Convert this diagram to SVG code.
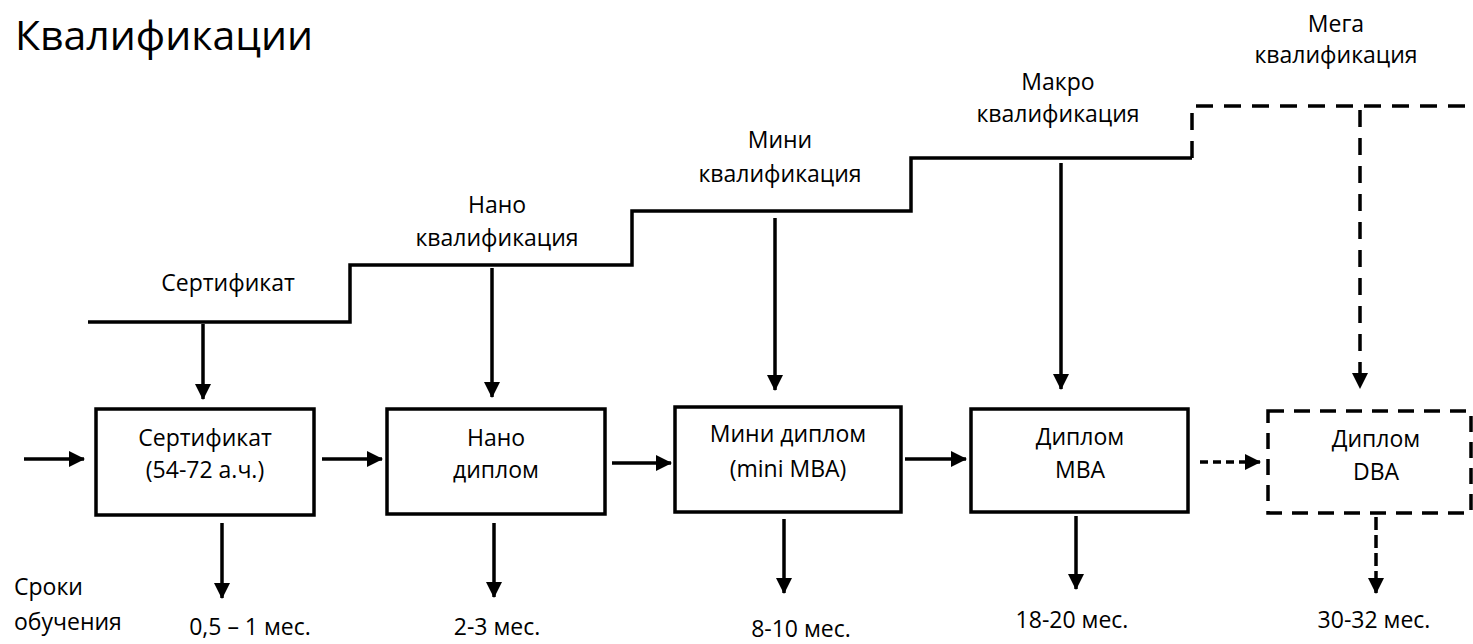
<svg xmlns="http://www.w3.org/2000/svg" width="1473" height="644" viewBox="0 0 1473 644">
<defs>
<style>
.t{font-family:"Open Sans","Noto Sans","DejaVu Sans",sans-serif;font-size:23px;fill:#000;text-anchor:middle}
.ln{fill:none;stroke:#000;stroke-width:3.5}
.dl{fill:none;stroke:#000;stroke-width:3.5;stroke-dasharray:17 11}
.box{fill:#fff;stroke:#000;stroke-width:3.5}
.dbox{fill:#fff;stroke:#000;stroke-width:3.5;stroke-dasharray:16 10}
.ar{fill:none;stroke:#000;stroke-width:3.5;marker-end:url(#ah)}
</style>
<marker id="ah" markerUnits="userSpaceOnUse" markerWidth="16" markerHeight="16" viewBox="0 0 16 16" refX="15" refY="8" orient="auto">
<path d="M0,0 L16,8 L0,16 Z" fill="#000"/>
</marker>
</defs>
<rect width="1473" height="644" fill="#fff"/>
<text x="15" y="50" style="font-family:'Open Sans','Noto Sans',sans-serif;font-size:41px" fill="#000">Квалификации</text>

<g id="staircase">
<path class="ln" d="M88,322 H350 V265 H632 V211 H911 V158 H1192"/>
<path class="dl" d="M1192,158 V106 H1473"/>
</g>

<g id="labels-top">
<text class="t" x="228" y="291">Сертификат</text>
<text class="t" x="497" y="213">Нано</text>
<text class="t" x="497" y="246">квалификация</text>
<text class="t" x="780" y="148">Мини</text>
<text class="t" x="780" y="182">квалификация</text>
<text class="t" x="1058" y="90">Макро</text>
<text class="t" x="1058" y="122">квалификация</text>
<text class="t" x="1336" y="32">Мега</text>
<text class="t" x="1336" y="63">квалификация</text>
</g>

<g id="node-cert">
<rect class="box" x="96" y="409" width="218" height="106"/>
<text class="t" x="205" y="446">Сертификат</text>
<text class="t" x="205" y="478">(54-72 а.ч.)</text>
</g>
<g id="node-nano">
<rect class="box" x="387" y="409" width="218" height="105"/>
<text class="t" x="496" y="446">Нано</text>
<text class="t" x="496" y="478">диплом</text>
</g>
<g id="node-mini">
<rect class="box" x="675" y="407" width="226" height="105"/>
<text class="t" x="788" y="442">Мини диплом</text>
<text class="t" x="788" y="477">(mini MBA)</text>
</g>
<g id="node-mba">
<rect class="box" x="971" y="409" width="217" height="103"/>
<text class="t" x="1080" y="445">Диплом</text>
<text class="t" x="1080" y="478">MBA</text>
</g>
<g id="node-dba">
<rect class="dbox" x="1268" y="411" width="203" height="102"/>
<text class="t" x="1376" y="447">Диплом</text>
<text class="t" x="1376" y="480">DBA</text>
</g>

<g id="labels-bottom">
<text class="t" x="14" y="595" style="text-anchor:start">Сроки</text>
<text class="t" x="14" y="630" style="text-anchor:start">обучения</text>
<text class="t" x="250" y="635">0,5 – 1 мес.</text>
<text class="t" x="497" y="635">2-3 мес.</text>
<text class="t" x="801" y="637">8-10 мес.</text>
<text class="t" x="1072" y="628">18-20 мес.</text>
<text class="t" x="1374" y="628">30-32 мес.</text>
</g>

<g id="connectors">
<line class="ar" x1="203" y1="324" x2="203" y2="399"/>
<line class="ar" x1="492" y1="268" x2="492" y2="397"/>
<line class="ar" x1="775" y1="218" x2="775" y2="390"/>
<line class="ar" x1="1061" y1="163" x2="1061" y2="389"/>
<line class="ar" x1="1360" y1="110" x2="1360" y2="388" style="stroke-dasharray:17 11"/>

<line class="ar" x1="24" y1="459" x2="84" y2="459"/>
<line class="ar" x1="322" y1="459" x2="382" y2="459"/>
<line class="ar" x1="612" y1="463" x2="671" y2="463"/>
<line class="ar" x1="905" y1="459" x2="966" y2="459"/>
<line class="ar" x1="1200" y1="462" x2="1260" y2="462" style="stroke-dasharray:8 5"/>

<line class="ar" x1="222" y1="523" x2="222" y2="598"/>
<line class="ar" x1="494" y1="523" x2="494" y2="597"/>
<line class="ar" x1="784" y1="519" x2="784" y2="593"/>
<line class="ar" x1="1076" y1="516" x2="1076" y2="589"/>
<line class="ar" x1="1376" y1="517" x2="1376" y2="593" style="stroke-dasharray:13 5"/>
</g>
</svg>
